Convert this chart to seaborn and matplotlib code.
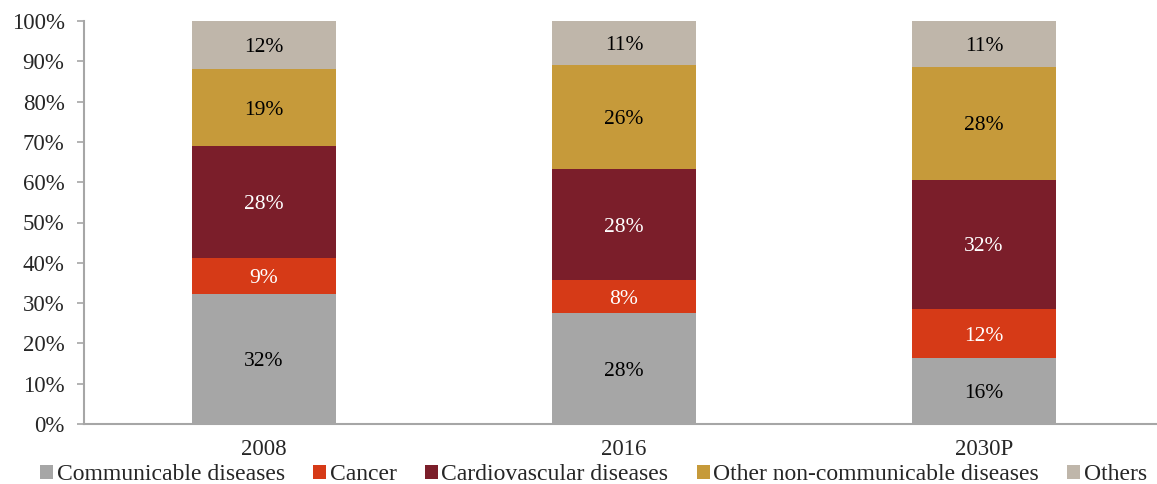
import matplotlib
matplotlib.use("Agg")
import matplotlib.pyplot as plt
import seaborn as sns
import numpy as np
import pandas as pd

categories = ["2008", "2016", "2030P"]
communicable = [32.3, 27.5, 16.4]
cancer = [8.9, 8.2, 12.1]
cardiovascular = [27.8, 27.6, 32.1]
other_ncd = [19.0, 25.7, 28.1]
others = [12.0, 11.0, 11.3]

series_names = ["Communicable diseases", "Cancer", "Cardiovascular diseases",
                "Other non-communicable diseases", "Others"]
series_values = [communicable, cancer, cardiovascular, other_ncd, others]
colors = ["#A6A6A6", "#D63A17", "#7B1E2A", "#C69A3A", "#BFB6AA"]
label_colors = ["black", "white", "white", "black", "black"]
y_ticks = list(range(0, 101, 10))

sns.set_theme(style="white")
plt.rcParams["font.family"] = ["Liberation Serif", "DejaVu Serif"]

fig = plt.figure(figsize=(11.57, 4.84), dpi=100)
ax = fig.add_axes([84/1157, 1-424/484, (1157-84)/1157, 403/484])

bottom = np.zeros(len(categories))
for name, vals, col, lc in zip(series_names, series_values, colors, label_colors):
    df = pd.DataFrame({"cat": categories, "val": vals})
    sns.barplot(data=df, x="cat", y="val", bottom=bottom, color=col, width=0.4,
                ax=ax, label=name, linewidth=0, saturation=1)
    for i, v in enumerate(vals):
        ax.text(i, bottom[i] + v/2, f"{round(v):.0f}%", ha="center", va="center_baseline",
                color=lc, fontsize=15.5)
    bottom = bottom + np.array(vals)

ax.set_xlim(-0.5, -0.5 + 1073/360)
ax.set_ylim(0, 100)
ax.set_yticks(y_ticks)
ax.set_yticklabels([f"{t}%" for t in y_ticks], fontsize=16.5)
ax.tick_params(axis="y", length=5, width=1.2, color="#A6A6A6", pad=9, left=True, direction="out")
ax.tick_params(axis="x", length=0, pad=11, labelsize=16.5)
ax.set_xlabel("")
ax.set_ylabel("")
for s in ["top", "right"]:
    ax.spines[s].set_visible(False)
for s in ["left", "bottom"]:
    ax.spines[s].set_color("#A6A6A6")
    ax.spines[s].set_linewidth(1.5)

handles, labels = ax.get_legend_handles_labels()
if ax.get_legend():
    ax.get_legend().remove()
fig.legend(handles, labels, loc="center left", bbox_to_anchor=(40/1157, 1-475/484), ncol=5,
           frameon=False, fontsize=17, handlelength=0.55, handleheight=0.55,
           handletextpad=0.15, columnspacing=1.2, borderaxespad=0, borderpad=0)

fig.savefig("out.png", dpi=100)
